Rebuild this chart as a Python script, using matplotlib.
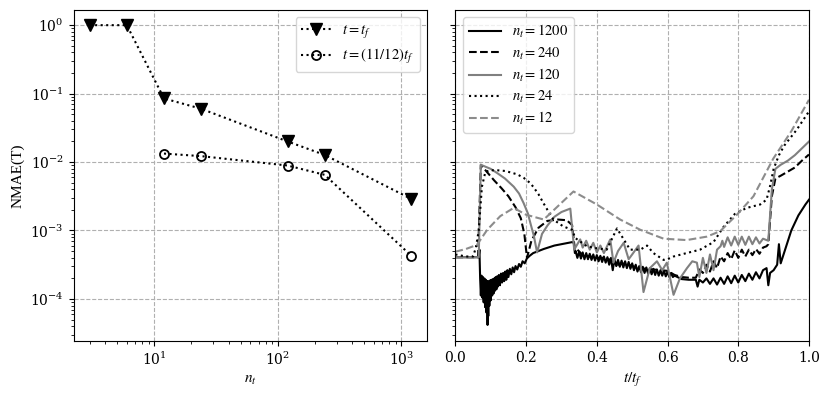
import numpy as np
import matplotlib
matplotlib.use("Agg")
import matplotlib.pyplot as plt
from matplotlib.font_manager import FontProperties

plt.rcParams['font.family'] = 'serif'
plt.rcParams['font.serif'] = ['DejaVu Serif']
plt.rcParams['mathtext.fontset'] = 'dejavuserif'

# left panel: error vs number of steps
n_t = [3, 6, 12, 24, 120, 240, 1200]
err_tf = [1.0, 1.0, 0.085, 0.06, 0.02, 0.0127, 0.0029]
n_t_1112 = [12, 24, 120, 240, 1200]
err_1112 = [0.0133, 0.0122, 0.0089, 0.0065, 0.00043]

# right panel: log10 NMAE over time
t_1200 = [0, 0.06, 0.066,
          0.068, 0.070, 0.072, 0.074, 0.076, 0.078, 0.080, 0.082, 0.084, 0.086,
          0.088, 0.090, 0.091, 0.092, 0.093, 0.094, 0.096, 0.098, 0.100, 0.102,
          0.104, 0.106, 0.108, 0.110, 0.112, 0.114, 0.116, 0.118, 0.120, 0.123,
          0.126, 0.129, 0.132, 0.135, 0.138, 0.141, 0.144, 0.147, 0.150, 0.154,
          0.158, 0.162, 0.166, 0.170, 0.175, 0.180, 0.185, 0.190, 0.196, 0.202,
          0.21, 0.22, 0.25, 0.28, 0.31, 0.33, 0.335, 0.338,
          0.340, 0.345, 0.350, 0.355, 0.360, 0.365, 0.370, 0.375, 0.380, 0.385,
          0.390, 0.395, 0.400, 0.405, 0.410, 0.415, 0.420, 0.425, 0.430, 0.435,
          0.440, 0.445, 0.450, 0.455, 0.460, 0.465, 0.470, 0.475, 0.480, 0.485,
          0.490, 0.495, 0.500, 0.505, 0.510, 0.515, 0.520, 0.525, 0.530, 0.535,
          0.540, 0.545, 0.550, 0.555, 0.560, 0.565, 0.570, 0.575, 0.580, 0.585,
          0.590, 0.595, 0.600, 0.605, 0.610, 0.615, 0.620,
          0.64, 0.66, 0.68, 0.685, 0.69, 0.70, 0.71, 0.72, 0.73, 0.74,
          0.75, 0.76, 0.77, 0.78, 0.79, 0.80, 0.81, 0.82, 0.83, 0.84, 0.85, 0.86, 0.87, 0.88,
          0.885, 0.89, 0.90, 0.91, 0.915, 0.92, 0.935, 0.95, 0.97, 0.99, 1.0]
lg_1200 = [-3.39, -3.39, -3.39,
           -3.28, -3.70, -3.95, -3.66, -3.98, -3.68, -4.05, -3.70, -4.12, -3.72,
           -4.20, -3.74, -4.38, -3.75, -4.25, -3.74, -4.10, -3.73, -4.02, -3.72,
           -3.95, -3.71, -3.92, -3.70, -3.88, -3.68, -3.86, -3.67, -3.82, -3.65,
           -3.80, -3.63, -3.76, -3.62, -3.74, -3.60, -3.72, -3.58, -3.68, -3.56,
           -3.64, -3.54, -3.61, -3.52, -3.57, -3.49, -3.53, -3.45, -3.48, -3.41,
           -3.37, -3.33, -3.27, -3.22, -3.19, -3.17, -3.18, -3.33,
           -3.30, -3.40, -3.31, -3.41, -3.32, -3.42, -3.33, -3.42, -3.34, -3.43,
           -3.35, -3.44, -3.36, -3.45, -3.37, -3.46, -3.38, -3.47, -3.39, -3.50,
           -3.40, -3.58, -3.42, -3.52, -3.43, -3.53, -3.44, -3.54, -3.45, -3.55,
           -3.46, -3.56, -3.48, -3.58, -3.50, -3.60, -3.52, -3.61, -3.53, -3.62,
           -3.54, -3.63, -3.55, -3.64, -3.56, -3.65, -3.57, -3.66, -3.58, -3.66,
           -3.59, -3.67, -3.60, -3.68, -3.62, -3.68, -3.66,
           -3.71, -3.72, -3.72, -3.82, -3.72, -3.76, -3.70, -3.78, -3.70, -3.79,
           -3.69, -3.78, -3.67, -3.77, -3.66, -3.76, -3.65, -3.74, -3.63, -3.72, -3.61, -3.70, -3.58, -3.55,
           -3.80, -3.62, -3.58, -3.50, -3.20, -3.48, -3.24, -3.00, -2.78, -2.62, -2.55]

t_240 = [0, 0.064, 0.072, 0.09, 0.11, 0.13, 0.15, 0.17, 0.185, 0.195, 0.2025, 0.215, 0.235, 0.26,
         0.29, 0.315, 0.33, 0.338, 0.345, 0.36, 0.38, 0.40, 0.42, 0.44, 0.46, 0.48, 0.50, 0.52,
         0.54, 0.56, 0.58, 0.60, 0.62, 0.64, 0.66, 0.68, 0.69, 0.70, 0.71, 0.72, 0.73, 0.74, 0.75,
         0.76, 0.77, 0.78, 0.79, 0.80, 0.81, 0.82, 0.83, 0.84, 0.85, 0.86, 0.87, 0.88, 0.885,
         0.895, 0.905, 0.92, 0.94, 0.96, 0.98, 1.0]
lg_240 = [-3.39, -3.39, -2.04, -2.15, -2.27, -2.38, -2.50, -2.66, -2.82, -3.05, -3.40, -3.15, -2.96, -2.86,
          -2.84, -2.85, -2.92, -3.28, -3.28, -3.36, -3.38, -3.40, -3.40, -3.43, -3.50, -3.48, -3.52, -3.55,
          -3.56, -3.57, -3.58, -3.59, -3.65, -3.68, -3.69, -3.69, -3.57, -3.62, -3.50, -3.60, -3.45, -3.55, -3.38,
          -3.45, -3.33, -3.42, -3.29, -3.40, -3.28, -3.38, -3.28, -3.36, -3.27, -3.34, -3.25, -3.23, -3.20,
          -2.50, -2.24, -2.20, -2.14, -2.08, -1.98, -1.89]

t_120 = [0, 0.066, 0.072, 0.10, 0.118, 0.14, 0.165, 0.18, 0.193, 0.205, 0.212, 0.222, 0.231, 0.245,
         0.26, 0.28, 0.30, 0.325, 0.336, 0.345, 0.353, 0.36, 0.37, 0.38, 0.39, 0.40, 0.41, 0.42,
         0.438, 0.447, 0.46, 0.476, 0.49, 0.50, 0.518, 0.532, 0.55, 0.57, 0.585, 0.598, 0.617, 0.635,
         0.655, 0.67, 0.683, 0.69, 0.70, 0.71, 0.72, 0.73, 0.74, 0.75, 0.755, 0.76, 0.77, 0.78, 0.79,
         0.80, 0.81, 0.82, 0.83, 0.84, 0.85, 0.86, 0.87, 0.885, 0.895, 0.905, 0.92, 0.94, 0.96, 0.98, 1.0]
lg_120 = [-3.39, -3.39, -2.04, -2.10, -2.16, -2.24, -2.36, -2.46, -2.60, -2.75, -2.89, -3.08, -3.32, -3.05,
          -2.93, -2.80, -2.73, -2.68, -3.28, -3.20, -3.13, -3.25, -3.15, -3.28, -3.18, -3.32, -3.22, -3.33,
          -3.13, -3.47, -3.30, -3.18, -3.42, -3.35, -3.22, -3.90, -3.55, -3.45, -3.58, -3.47, -3.94, -3.70,
          -3.55, -3.45, -3.47, -3.68, -3.40, -3.62, -3.35, -3.58, -3.28, -3.23, -3.15, -3.24, -3.10, -3.22, -3.09,
          -3.21, -3.09, -3.21, -3.09, -3.20, -3.10, -3.19, -3.12, -3.15, -2.40, -2.10, -2.04, -1.98, -1.90, -1.80, -1.70]

t_24 = [0, 0.03, 0.05, 0.058, 0.066, 0.075, 0.085, 0.10, 0.118, 0.14, 0.155, 0.175, 0.193, 0.21,
        0.22, 0.235, 0.249, 0.265, 0.277, 0.305, 0.33, 0.339, 0.372, 0.40, 0.428, 0.457, 0.494,
        0.523, 0.542, 0.56, 0.589, 0.60, 0.617, 0.654, 0.692, 0.73, 0.758, 0.79, 0.824, 0.862,
        0.88, 0.89, 0.90, 0.915, 0.93, 0.965, 1.0]
lg_24 = [-3.35, -3.38, -3.38, -3.25, -3.00, -2.36, -2.14, -2.12, -2.12, -2.13, -2.15, -2.18, -2.23, -2.30,
         -2.36, -2.47, -2.60, -2.74, -2.84, -2.94, -2.99, -3.11, -3.23, -3.26, -3.28, -2.97, -3.28,
         -3.28, -3.22, -3.33, -3.43, -3.42, -3.38, -3.33, -3.28, -3.17, -2.95, -2.76, -2.67, -2.62,
         -2.55, -2.35, -2.10, -1.90, -1.76, -1.53, -1.26]

t_12 = [0, 0.03, 0.061, 0.09, 0.127, 0.165, 0.20, 0.25, 0.334, 0.40, 0.466, 0.523, 0.589, 0.654,
        0.711, 0.749, 0.796, 0.843, 0.899, 0.95, 1.0]
lg_12 = [-3.31, -3.27, -3.21, -2.99, -2.79, -2.67, -2.77, -2.84, -2.43, -2.62, -2.84, -2.99, -3.12, -3.14,
         -3.09, -3.01, -2.77, -2.50, -1.95, -1.55, -1.09]

txt = FontProperties(family='Liberation Serif', size=11, math_fontfamily='stix')
leg = FontProperties(family='Liberation Serif', size=10.5, math_fontfamily='stix')

fig = plt.figure(figsize=(8.31, 3.96), dpi=100)
ax1 = fig.add_axes([0.0885, 0.138, 0.4255, 0.8365])
ax2 = fig.add_axes([0.548, 0.138, 0.4255, 0.8365], sharey=ax1)

# left
ax1.loglog(n_t, err_tf, ':', color='k', marker='v', ms=8, lw=1.5, label=r'$t=t_f$')
ax1.loglog(n_t_1112, err_1112, ':', color='k', marker='o', ms=6.5, mfc='none', mew=1.3, lw=1.5,
           label=r'$t=(11/12)t_f$')
ax1.set_xlabel(r'$n_t$', fontproperties=txt)
ax1.set_ylabel('NMAE(T)', fontproperties=txt)
ax1.grid(True, which='major', ls='--', color='#b0b0b0', lw=0.8)
ax1.legend(loc='upper right', prop=leg, labelspacing=0.45, handlelength=2.0)

# right
ax2.semilogy(t_1200, 10**np.array(lg_1200), '-', color='k', lw=1.5, label=r'$n_t=1200$')
ax2.semilogy(t_240, 10**np.array(lg_240), '--', color='k', lw=1.5, label=r'$n_t=240$')
ax2.semilogy(t_120, 10**np.array(lg_120), '-', color='0.5', lw=1.5, label=r'$n_t=120$')
ax2.semilogy(t_24, 10**np.array(lg_24), ':', color='k', lw=1.5, label=r'$n_t=24$')
ax2.semilogy(t_12, 10**np.array(lg_12), '--', color='0.55', lw=1.5, label=r'$n_t=12$')
ax2.set_xlim(0, 1)
ax2.set_xlabel(r'$t/t_f$', fontproperties=txt)
ax2.tick_params(labelleft=False)
ax2.grid(True, which='major', ls='--', color='#b0b0b0', lw=0.8)
ax2.legend(loc='upper left', prop=leg, labelspacing=0.35, handlelength=2.2)

ax1.set_ylim(2.4e-5, 1.66)
for ax in (ax1, ax2):
    ax.tick_params(labelsize=10)

fig.savefig('out.png', dpi=100)
